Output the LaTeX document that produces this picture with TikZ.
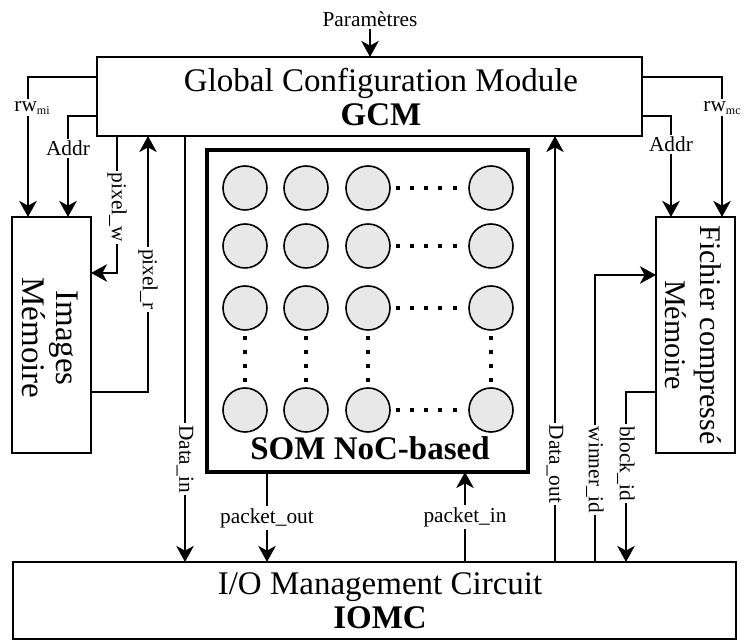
\documentclass[tikz,border=0pt]{standalone}
\usepackage{fontspec}
\setmainfont{Liberation Serif}
\usetikzlibrary{arrows.meta,calc}
\definecolor{circfill}{RGB}{232,232,232}
\begin{document}
\begin{tikzpicture}[x=0.75pt,y=-0.75pt,
  box/.style={draw, line width=1.5pt, outer sep=0pt, inner sep=0pt},
  big/.style={font=\fontsize{24.75}{25.5}\selectfont, align=center, inner sep=0pt},
  lbl/.style={fill=white, inner sep=1.5pt, font=\fontsize{16}{18}\selectfont},
  conn/.style={line width=2.2pt, -{Stealth[length=12pt,width=13pt,inset=3.5pt]}},
  neuron/.style={circle, draw, line width=1.2pt, fill=circfill, minimum size=33pt, inner sep=0pt}
]
\useasboundingbox (0,0) rectangle (744,641);

% blocks
\node[box, minimum width=408.75pt, minimum height=59.25pt] (gcm) at (369.5,96.5) {};
\node[big] (gcmtxt) at (381,97) {Global Configuration Module\\\textbf{GCM}};

\node[box, minimum width=59.25pt, minimum height=177pt] (imem) at (51.5,335) {};
\node[big, rotate=-90] (imtxt) at (50,338) {Images\\Mémoire};

\node[box, minimum width=59.25pt, minimum height=177pt] (fmem) at (695.5,335) {};
\node[font=\fontsize{22.5}{26}\selectfont, align=center, inner sep=0pt, rotate=-90] (fmtxt) at (693,335) {Fichier compressé\\Mémoire};

\node[box, line width=2.5pt, minimum width=240.75pt, minimum height=241.5pt] (som) at (367.5,311) {};
\node[big, font=\fontsize{24.75}{25.5}\selectfont\bfseries] (somtxt) at (370,448) {SOM NoC-based};

\node[box, minimum width=542.25pt, minimum height=57.75pt] (iomc) at (374.5,600.5) {};
\node[big] (iotxt) at (380,601) {I/O Management Circuit\\\textbf{IOMC}};

% neurons
\foreach \x [count=\i] in {245,306,368,491}
  \foreach \y [count=\j] in {188,246,308,410}
    \node[neuron] (n-\i-\j) at (\x,\y) {};
\foreach \y in {188,246,308,410}
  \foreach \x in {398,412,426,440,455}
    \fill (\x-2,\y-2) rectangle (\x+2,\y+2);
\foreach \x in {245,306,368,491}
  \foreach \y in {338,352,366,380}
    \fill (\x-2,\y-2) rectangle (\x+2,\y+2);

% Parametres
\node[lbl, fill=none] (param) at (370,19) {Paramètres};
\draw[conn] (param.south) -- (param.south |- gcm.north);

% coordinates
\coordinate (rwmiS) at ($(gcm.north west)+(0,20)$);
\coordinate (rwmiE) at ($(imem.north west)+(16,0)$);
\coordinate (adlS) at ($(gcm.north west)+(0,59)$);
\coordinate (adlE) at ($(imem.north west)+(56,0)$);
\coordinate (pwS) at ($(gcm.south west)+(20,0)$);
\coordinate (pwE) at ($(imem.north east)+(0,56)$);
\coordinate (prS) at ($(imem.south east)+(0,-61)$);
\coordinate (prE) at ($(gcm.south west)+(51,0)$);
\coordinate (diS) at ($(gcm.south west)+(88,0)$);
\coordinate (poS) at ($(som.south west)+(60,0)$);
\coordinate (piE) at ($(som.south west)+(258,0)$);
\coordinate (doS) at ($(iomc.north west)+(542,0)$);
\coordinate (wiS) at ($(iomc.north west)+(582,0)$);
\coordinate (wiE) at ($(fmem.north west)+(0,58)$);
\coordinate (biS) at ($(fmem.south west)+(0,-61)$);
\coordinate (biE) at ($(iomc.north west)+(613,0)$);
\coordinate (adrS) at ($(gcm.north east)+(0,59)$);
\coordinate (adrE) at ($(fmem.north west)+(15,0)$);
\coordinate (rwmcS) at ($(gcm.north east)+(0,20)$);
\coordinate (rwmcE) at ($(fmem.north west)+(66,0)$);

% connectors
\draw[conn] (rwmiS) -| node[lbl, pos=0.61, xshift=3pt] {rw{\fontsize{9}{9}\selectfont\raisebox{-2pt}{mi}}} (rwmiE);
\draw[conn] (adlS) -| node[lbl, pos=0.66] {Addr} (adlE);
\draw[conn] (pwS) |- node[lbl, pos=0.26, rotate=-90] {pixel\_w} (pwE);
\draw[conn] (prS) -| node[lbl, pos=0.72, rotate=-90] {pixel\_r} (prE);
\draw[conn] (diS) -- node[lbl, pos=0.758, rotate=-90] {Data\_in} (diS |- iomc.north);
\draw[conn] (poS) -- node[lbl, pos=0.51] {packet\_out} (poS |- iomc.north);
\draw[conn] (piE |- iomc.north) -- node[lbl, pos=0.5] {packet\_in} (piE);
\draw[conn] (doS) -- node[lbl, pos=0.23, rotate=-90] {Data\_out} (doS |- gcm.south);
\draw[conn] (wiS) |- node[lbl, pos=0.16, rotate=-90] {winner\_id} (wiE);
\draw[conn] (biS) -| node[lbl, pos=0.71, rotate=-90] {block\_id} (biE);
\draw[conn] (adrS) -| node[lbl, pos=0.64] {Addr} (adrE);
\draw[conn] (rwmcS) -| node[lbl, pos=0.61] {rw{\fontsize{9}{9}\selectfont\raisebox{-2pt}{mc}}} (rwmcE);
\end{tikzpicture}
\end{document}
